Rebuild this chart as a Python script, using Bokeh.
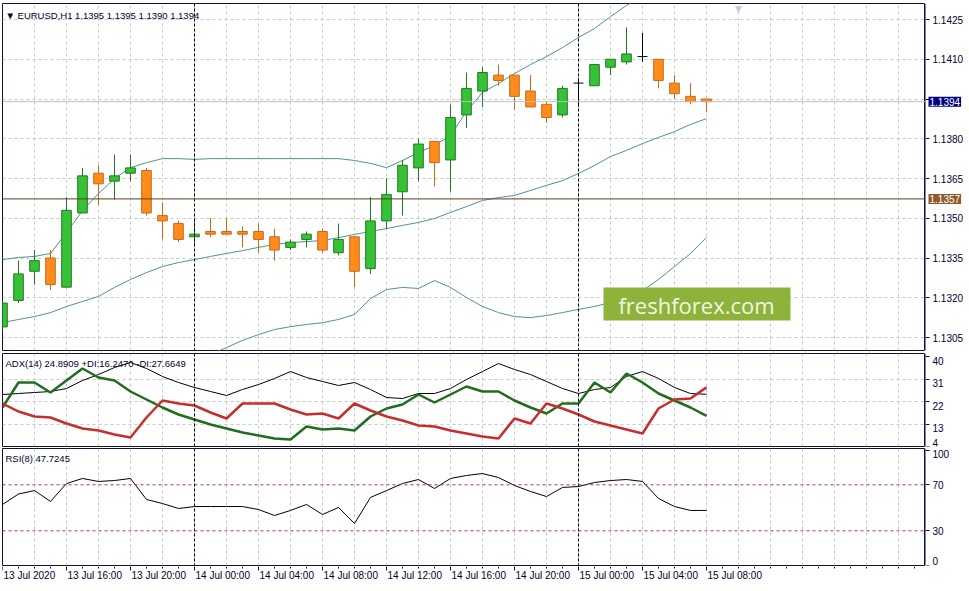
from bokeh.plotting import figure
from bokeh.models import (Range1d, FixedTicker, Span, Label, BoxAnnotation, LinearAxis,
                          ColumnDataSource, PrintfTickFormatter)
from bokeh.layouts import column, row
from bokeh.embed import file_html
from bokeh.resources import INLINE
from bokeh.core.properties import value

# ---------------- data ----------------
# hourly bars, bar 0 = 14 Jul 00:00 (EURUSD H1)
bars = list(range(-12, 33))
tick_bars = [-12, -8, -4, 0, 4, 8, 12, 16, 20, 24, 28, 32]
tick_labels = ["13 Jul 2020", "13 Jul 16:00", "13 Jul 20:00", "14 Jul 00:00",
               "14 Jul 04:00", "14 Jul 08:00", "14 Jul 12:00", "14 Jul 16:00",
               "14 Jul 20:00", "15 Jul 00:00", "15 Jul 04:00", "15 Jul 08:00"]
day_separators = [0, 24]

open_ = [1.1309, 1.1319, 1.1330, 1.1335, 1.1324, 1.1352, 1.1367, 1.1364, 1.1367, 1.1368,
         1.1351, 1.1348, 1.1343, 1.1345, 1.1345, 1.1345, 1.1345, 1.1343, 1.1339, 1.1342,
         1.1345, 1.1337, 1.1343, 1.1331, 1.1349, 1.1360, 1.1369, 1.1379, 1.1372, 1.1389,
         1.1398, 1.1404, 1.1404, 1.1398, 1.1393, 1.1389, 1.1401, 1.1400, 1.1407, 1.1409,
         1.1411, 1.1410, 1.1401, 1.1396, 1.1395]
high = [1.1319, 1.1334, 1.1338, 1.1338, 1.1358, 1.1369, 1.1370, 1.1374, 1.1374, 1.1369,
        1.1356, 1.1349, 1.1350, 1.1350, 1.1350, 1.1347, 1.1348, 1.1346, 1.1342, 1.1345,
        1.1346, 1.1348, 1.1343, 1.1358, 1.1365, 1.1372, 1.1380, 1.1379, 1.1393, 1.1405,
        1.1407, 1.1408, 1.1404, 1.1404, 1.1394, 1.1400, 1.1403, 1.1408, 1.1410, 1.1422,
        1.1420, 1.1410, 1.1404, 1.1401, 1.1395]
low = [1.1307, 1.1318, 1.1325, 1.1323, 1.1324, 1.1352, 1.1355, 1.1357, 1.1364, 1.1351,
       1.1342, 1.1341, 1.1340, 1.1343, 1.1344, 1.1339, 1.1337, 1.1334, 1.1338, 1.1339,
       1.1337, 1.1336, 1.1324, 1.1329, 1.1346, 1.1351, 1.1364, 1.1362, 1.1360, 1.1384,
       1.1392, 1.1400, 1.1391, 1.1392, 1.1386, 1.1388, 1.1392, 1.1400, 1.1404, 1.1408,
       1.1409, 1.1399, 1.1395, 1.1393, 1.1390]
close = [1.1318, 1.1329, 1.1334, 1.1325, 1.1353, 1.1366, 1.1363, 1.1366, 1.1369, 1.1352,
         1.1349, 1.1342, 1.1344, 1.1344, 1.1344, 1.1344, 1.1342, 1.1338, 1.1341, 1.1344,
         1.1338, 1.1342, 1.1330, 1.1349, 1.1359, 1.1370, 1.1378, 1.1371, 1.1388, 1.1399,
         1.1405, 1.1402, 1.1396, 1.1392, 1.1388, 1.1399, 1.1401, 1.1408, 1.1410, 1.1412,
         1.1411, 1.1402, 1.1397, 1.1394, 1.1394]

bb_upper = [1.13344, 1.13352, 1.13356, 1.13367, 1.13446, 1.13529, 1.13593, 1.13650, 1.13691, 1.13710,
            1.13725, 1.13725, 1.13722, 1.13725, 1.13725, 1.13725, 1.13725, 1.13725, 1.13725, 1.13725,
            1.13725, 1.13725, 1.13718, 1.13707, 1.13691, 1.13718, 1.13748, 1.13775, 1.13812, 1.13903,
            1.13975, 1.14008, 1.14046, 1.14080, 1.14110, 1.14144, 1.14182, 1.14216, 1.14261, 1.14303,
            1.14337, 1.14344, 1.14348, 1.14344, 1.14333]
bb_middle = [1.13106, 1.13118, 1.13129, 1.13144, 1.13167, 1.13186, 1.13205, 1.13239, 1.13269, 1.13295,
             1.13318, 1.13333, 1.13344, 1.13356, 1.13367, 1.13378, 1.13390, 1.13401, 1.13408, 1.13412,
             1.13416, 1.13427, 1.13439, 1.13450, 1.13461, 1.13473, 1.13484, 1.13499, 1.13522, 1.13544,
             1.13567, 1.13578, 1.13586, 1.13605, 1.13624, 1.13642, 1.13669, 1.13699, 1.13733, 1.13756,
             1.13782, 1.13805, 1.13827, 1.13854, 1.13876]
bb_lower = [1.12869, 1.12884, 1.12903, 1.12922, 1.12888, 1.12842, 1.12816, 1.12827, 1.12846, 1.12880,
            1.12910, 1.12940, 1.12967, 1.12986, 1.13012, 1.13039, 1.13061, 1.13080, 1.13091, 1.13099,
            1.13106, 1.13118, 1.13137, 1.13197, 1.13231, 1.13239, 1.13235, 1.13265, 1.13239, 1.13201,
            1.13167, 1.13144, 1.13129, 1.13125, 1.13133, 1.13144, 1.13156, 1.13167, 1.13182, 1.13201,
            1.13227, 1.13269, 1.13318, 1.13367, 1.13427]

adx = [24.8, 25.2, 25.6, 26.0, 27.2, 30.4, 32.8, 35.6, 37.6, 35.2, 32.0, 29.6,
       27.6, 26.0, 24.4, 26.8, 28.8, 31.2, 34.0, 31.6, 30.0, 28.4,
       29.6, 26.8, 23.6, 23.2, 25.2, 25.2, 27.2, 30.8, 34.0, 37.2,
       34.8, 32.8, 30.0, 27.2, 25.2, 26.8, 27.6, 32.0, 34.0, 31.2, 27.6, 25.2, 24.89]
plus_di = [19.6, 29.6, 29.6, 25.6, 30.4, 35.2, 31.6, 30.4, 26.0, 22.8, 19.6, 16.8,
           14.8, 12.8, 11.2, 9.6, 8.4, 7.2, 6.8, 12.0, 10.8, 11.2,
           10.4, 16.0, 19.2, 20.8, 24.8, 21.6, 24.8, 28.0, 26.0, 26.0,
           22.4, 19.6, 17.2, 21.2, 21.2, 29.6, 25.6, 33.2, 29.6, 25.2, 22.4, 19.6, 16.25]
minus_di = [21.2, 18.0, 16.0, 15.6, 13.2, 11.2, 10.4, 8.8, 7.6, 15.6, 22.4, 21.2,
            20.4, 17.6, 15.2, 21.2, 21.2, 21.2, 18.8, 16.8, 17.2, 15.2,
            21.2, 18.4, 16.0, 14.4, 12.4, 12.0, 10.4, 9.2, 8.0, 7.2,
            15.2, 13.2, 21.2, 19.2, 16.8, 14.0, 12.4, 10.8, 9.2, 19.2, 22.8, 23.2, 27.66]
rsi = [52.9, 62.0, 65.0, 55.5, 71.1, 75.5, 72.9, 73.7, 75.5, 57.2, 53.7, 49.4,
       51.1, 51.1, 51.1, 51.1, 48.5, 43.3, 47.7, 52.9, 44.2, 50.3,
       36.3, 59.0, 65.0, 71.1, 74.6, 66.8, 75.5, 78.1, 79.8, 76.3,
       69.4, 64.2, 59.8, 67.7, 68.5, 72.0, 73.7, 74.6, 72.9, 58.1, 51.1, 47.7, 47.72]

price_ticks = [1.1305, 1.1320, 1.1335, 1.1350, 1.1365, 1.1380, 1.1395, 1.1410, 1.1425]
adx_ticks = [40, 31, 22, 13, 4]
adx_tick_text = ["40", "31", "22", "13", "4"]
adx_grid = [31, 22, 13]
rsi_ticks = [100, 70, 30, 0]
rsi_tick_text = ["100", "70", "30", "0"]
rsi_levels = [70, 30]
hline_level = 1.13573
hline_text = "1.1357"
bid_price = 1.1394
bid_text = "1.1394"

title_main = "\u25bc EURUSD,H1  1.1395 1.1395 1.1390 1.1394"
title_adx = "ADX(14) 24.8909 +DI:16.2470 -DI:27.6649"
title_rsi = "RSI(8) 47.7245"
watermark = "freshforex.com"

# ---------------- style / layout ----------------
FONT = "Liberation Sans"
FRAME = "#10103a"
TXT = "#000033"
GRID = "#c8c8c8"
BB = "#4f9487"
BULL_FILL, BULL_LINE = "#36c236", "#217a21"
BEAR_FILL, BEAR_LINE = "#ff8c1a", "#c8691e"

W_MAIN, W_AXIS = 925, 44
PX_BAR = 16.0
xr = Range1d(-12.0, -12.0 + (W_MAIN - 2) / PX_BAR)
grid_bars = list(range(-12, 46, 2))


def panel(height, yr, top, bottom):
    p = figure(width=W_MAIN, height=height, x_range=xr, y_range=yr,
               output_backend="svg", toolbar_location=None,
               x_axis_location=None, y_axis_location=None,
               min_border_left=2, min_border_right=0,
               min_border_top=top, min_border_bottom=bottom)
    p.outline_line_color = FRAME
    p.outline_line_alpha = 1.0
    p.background_fill_color = "white"
    p.border_fill_color = "white"
    p.grid.grid_line_color = GRID
    p.grid.grid_line_dash = "3 3"
    p.xgrid.ticker = FixedTicker(ticks=grid_bars)
    for d in day_separators:
        p.add_layout(Span(location=d, dimension="height", line_color="black",
                          line_dash="3 2", line_width=1))
    return p


def axis_strip(height, yr, top, bottom, ticks):
    s = figure(width=W_AXIS, height=height, x_range=Range1d(0, W_AXIS), y_range=yr,
               output_backend="svg", toolbar_location=None,
               x_axis_location=None, y_axis_location=None,
               min_border_left=0, min_border_right=0,
               min_border_top=top, min_border_bottom=bottom)
    s.outline_line_color = None
    s.grid.visible = False
    s.background_fill_color = "white"
    s.border_fill_color = "white"
    ax = LinearAxis(fixed_location=0, ticker=FixedTicker(ticks=ticks))
    ax.axis_line_color = FRAME
    ax.major_tick_line_color = FRAME
    ax.major_tick_in = 0
    ax.major_tick_out = 4
    ax.minor_tick_line_color = None
    ax.major_label_text_font = FONT
    ax.major_label_text_font_size = "10px"
    ax.major_label_text_color = TXT
    ax.major_label_standoff = 3
    s.add_layout(ax, "right")
    return s, ax


def title(p, text, y_from_bottom):
    p.add_layout(Label(x=3, y=y_from_bottom, x_units="screen", y_units="screen",
                       text=text, text_font=FONT, text_font_size="9.5px",
                       text_color=TXT, text_baseline="middle"))


def side_labels(s, ticks, texts, baselines):
    src = ColumnDataSource(dict(y=ticks, t=texts, b=baselines))
    s.text(x=7, y="y", text="t", text_baseline="b", text_align="left",
           text_font=value(FONT), text_font_size=value("10px"), text_color=TXT, source=src)


# ---------------- main price panel ----------------
yr1 = Range1d(1.1425 - (350 - 19) / 26500.0, 1.1425 + (19 - 3) / 26500.0)
p1 = panel(351, yr1, 3, 1)
p1.ygrid.ticker = FixedTicker(ticks=price_ticks)

p1.add_layout(Span(location=bid_price, dimension="width", line_color="#c0c0c0", line_width=1))
p1.add_layout(Span(location=hline_level, dimension="width", line_color="#5c3f24", line_width=1))

p1.line(bars, bb_upper, line_color=BB, line_width=1)
p1.line(bars, bb_middle, line_color=BB, line_width=1)
p1.line(bars, bb_lower, line_color=BB, line_width=1)

kind = ["bull" if c > o else ("bear" if c < o else "doji") for o, c in zip(open_, close)]
wick_col = [BULL_LINE if k == "bull" else (BEAR_LINE if k == "bear" else "black") for k in kind]
p1.segment(x0="x", y0="l", x1="x", y1="h", line_color="w", line_width=1,
           source=ColumnDataSource(dict(x=bars, h=high, l=low, w=wick_col)))

body = dict(x=[], top=[], bottom=[], fill=[], line=[])
doji = dict(x0=[], x1=[], y=[])
for b, o, c, k in zip(bars, open_, close, kind):
    if k == "doji":
        doji["x0"].append(b - 0.31)
        doji["x1"].append(b + 0.31)
        doji["y"].append(c)
    else:
        body["x"].append(b)
        body["top"].append(max(o, c))
        body["bottom"].append(min(o, c))
        body["fill"].append(BULL_FILL if k == "bull" else BEAR_FILL)
        body["line"].append(BULL_LINE if k == "bull" else BEAR_LINE)
p1.vbar(x="x", top="top", bottom="bottom", width=0.6, fill_color="fill",
        line_color="line", line_width=1, source=ColumnDataSource(body))
p1.segment(x0="x0", y0="y", x1="x1", y1="y", line_color="black", line_width=1,
           source=ColumnDataSource(doji))

title(p1, title_main, 335)

# chart-shift marker at the top edge
p1.add_layout(Label(x=736, y=342, x_units="screen", y_units="screen", text="\u25bc",
                    text_font="DejaVu Sans", text_font_size="9px", text_color="#cbc6dc",
                    text_align="center", text_baseline="middle"))

p1.add_layout(BoxAnnotation(left=601, right=788, bottom=30, top=63,
                            left_units="screen", right_units="screen",
                            bottom_units="screen", top_units="screen",
                            fill_color="#8db33a", fill_alpha=1.0, line_color=None))
p1.add_layout(Label(x=694, y=46, x_units="screen", y_units="screen", text=watermark,
                    text_font="Open Sans", text_font_size="22px", text_color="#f2f7e4",
                    text_align="center", text_baseline="middle"))

s1, ax1 = axis_strip(351, yr1, 3, 1, price_ticks)
ax1.formatter = PrintfTickFormatter(format="%.4f")
ax1.major_label_overrides = {1.1395: ""}
s1.add_layout(Label(x=3, y=bid_price, text=bid_text, text_font=FONT, text_font_size="10px",
                    text_color="white", text_baseline="middle",
                    background_fill_color="#000080", background_fill_alpha=1.0, padding=1))
s1.add_layout(Label(x=3, y=hline_level, text=hline_text, text_font=FONT, text_font_size="10px",
                    text_color="white", text_baseline="middle",
                    background_fill_color="#8f5a2a", background_fill_alpha=1.0, padding=1))

# ---------------- ADX panel ----------------
yr2 = Range1d(22 - (446 - 401) / 2.5, 22 + (401 - 353) / 2.5)
p2 = panel(96, yr2, 2, 1)
p2.ygrid.ticker = FixedTicker(ticks=adx_grid)
p2.line(bars, adx, line_color="black", line_width=1)
p2.line(bars, plus_di, line_color="#1f6e1f", line_width=2.5)
p2.line(bars, minus_di, line_color="#c62e2e", line_width=2.5)
title(p2, title_adx, 83)

s2, ax2 = axis_strip(96, yr2, 2, 1, adx_ticks)
ax2.major_label_overrides = {t: "" for t in adx_ticks}
side_labels(s2, adx_ticks, adx_tick_text, ["top", "top", "top", "top", "bottom"])

# ---------------- RSI panel ----------------
yr3 = Range1d(70 - (565 - 484.3) / 1.15, 70 + (484.3 - 448) / 1.15)
p3 = panel(119, yr3, 1, 1)
p3.ygrid.visible = False
for lv in rsi_levels:
    p3.add_layout(Span(location=lv, dimension="width", line_color="#a83c3c",
                       line_dash="3 3", line_width=1))
p3.line(bars, rsi, line_color="black", line_width=1)
title(p3, title_rsi, 107)

s3, ax3 = axis_strip(119, yr3, 1, 1, rsi_ticks)
ax3.major_label_overrides = {t: "" for t in rsi_ticks}
side_labels(s3, rsi_ticks, rsi_tick_text, ["top", "middle", "middle", "bottom"])

# ---------------- time axis strip ----------------
p4 = figure(width=W_MAIN + W_AXIS, height=25,
            x_range=Range1d(-12.0, -12.0 + (W_MAIN + W_AXIS - 2) / PX_BAR), y_range=Range1d(0, 25),
            output_backend="svg", toolbar_location=None,
            x_axis_location=None, y_axis_location=None,
            min_border_left=2, min_border_right=0, min_border_top=0, min_border_bottom=0)
p4.outline_line_color = None
p4.grid.visible = False
p4.background_fill_color = "white"
p4.border_fill_color = "white"
xa = LinearAxis(fixed_location=25, bounds=(-12.0, xr.end),
                ticker=FixedTicker(ticks=tick_bars, minor_ticks=list(range(-12, 46))))
xa.major_label_overrides = {t: "" for t in tick_bars}
xa.axis_line_color = None
xa.major_tick_line_color = FRAME
xa.minor_tick_line_color = FRAME
xa.major_tick_in = 0
xa.major_tick_out = 4
xa.minor_tick_in = 0
xa.minor_tick_out = 2
p4.add_layout(xa, "below")
p4.text(x=tick_bars, y=[16] * len(tick_bars), text=tick_labels, x_offset=1,
        text_align="left", text_baseline="middle", text_font=value(FONT),
        text_font_size=value("10px"), text_color=TXT)

layout = column(row(p1, s1, spacing=0), row(p2, s2, spacing=0),
                row(p3, s3, spacing=0), p4, spacing=0)
html = file_html(layout, INLINE, title="EURUSD H1")
html = html.replace("</head>",
                    "<style>html,body{margin:0;padding:0;overflow:hidden;}</style></head>", 1)
open("out.html", "w").write(html)
